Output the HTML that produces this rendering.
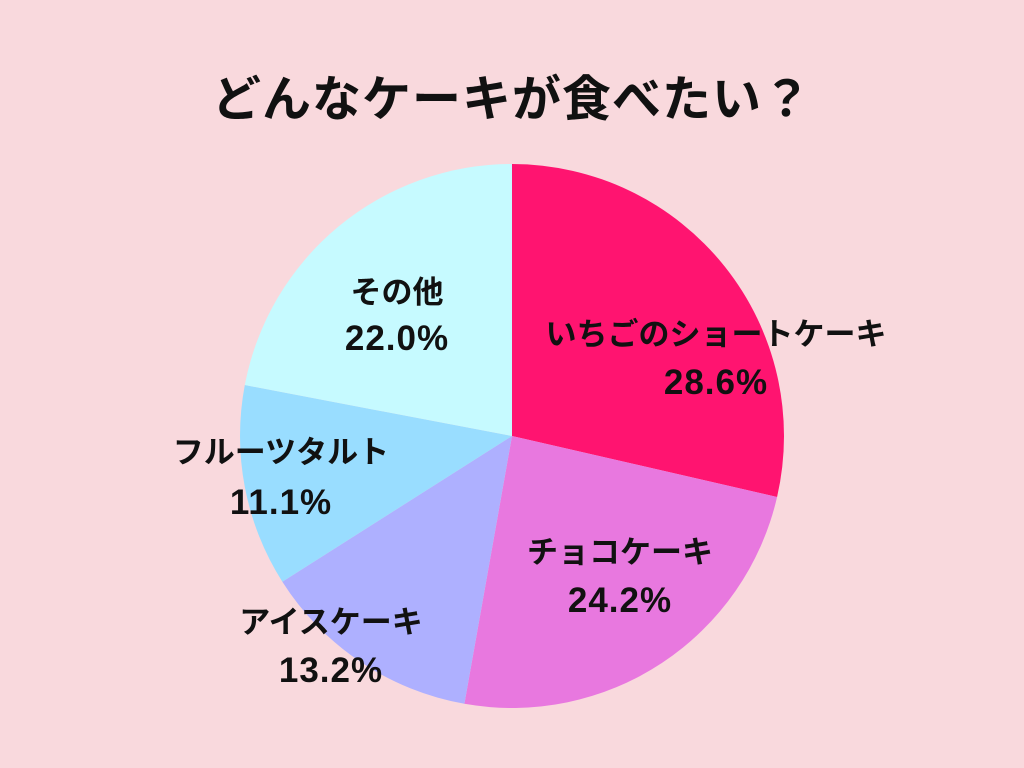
<!DOCTYPE html>
<html><head><meta charset="utf-8"><style>
body{margin:0;background:#F9D9DD;width:1024px;height:768px;overflow:hidden}
svg{display:block}
text{font-family:"Liberation Sans","Noto Sans CJK JP",sans-serif;font-weight:bold;fill:#111}
.n{font-size:35px;letter-spacing:1px}
</style></head><body>
<svg width="1024" height="768" viewBox="0 0 1024 768">
<rect width="1024" height="768" fill="#F9D9DD"/>
<text x="512" y="116" font-size="49" text-anchor="middle" letter-spacing="1">どんなケーキが食べたい？</text>
<g id="pie"></g>
<g font-size="31" text-anchor="middle">
<text x="716" y="345">いちごのショートケーキ</text><text class="n" x="716" y="394">28.6%</text>
<text x="620" y="563">チョコケーキ</text><text class="n" x="620" y="612">24.2%</text>
<text x="331" y="633">アイスケーキ</text><text class="n" x="331" y="682">13.2%</text>
<text x="281" y="463">フルーツタルト</text><text class="n" x="281" y="514">11.1%</text>
<text x="397" y="303">その他</text><text class="n" x="397" y="350">22.0%</text>
</g>
</svg>
<script>
var cx=512,cy=436,r=272,ns="http://www.w3.org/2000/svg";
var d=[[0,102.96,"#FF1470"],[102.96,190.08,"#E878DF"],[190.08,237.6,"#AEB0FF"],[237.6,280.8,"#99DDFF"],[280.8,360,"#C6FAFF"]];
function p(a){a=a*Math.PI/180;return [cx+r*Math.sin(a),cy-r*Math.cos(a)];}
var g=document.getElementById("pie");
d.forEach(function(s){var a=p(s[0]),b=p(s[1]);var e=document.createElementNS(ns,"path");
e.setAttribute("d","M"+cx+","+cy+"L"+a[0]+","+a[1]+"A"+r+","+r+" 0 "+((s[1]-s[0])>180?1:0)+" 1 "+b[0]+","+b[1]+"Z");
e.setAttribute("fill",s[2]);g.appendChild(e);});
</script>
</body></html>
